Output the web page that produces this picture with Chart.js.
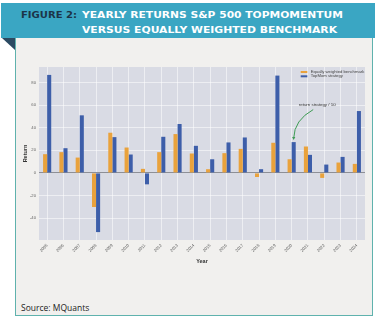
<!DOCTYPE html>
<html>
<head>
<meta charset="utf-8">
<script src="https://cdn.jsdelivr.net/npm/chart.js@4/dist/chart.umd.min.js"></script>
<style>
  html, body { margin: 0; padding: 0; background: #ffffff; }
  #wrap { position: relative; width: 380px; height: 321px; overflow: hidden; }
  #header { position: absolute; left: 1px; top: 3px; width: 374px; height: 35px; background: #3aa6c3; }
  #corner { position: absolute; left: 2px; top: 38px; width: 0; height: 0;
    border-top: 12px solid #2b4a62; border-left: 13px solid transparent; }
  #panel { position: absolute; left: 15px; top: 38px; width: 356px; height: 277px;
    background: #f1f0ee; border: 1px solid #5fb2ad; border-top: none; }
  .htxt { position: absolute; font-family: "DejaVu Sans", sans-serif; font-weight: bold;
    font-size: 9px; line-height: 9px; white-space: nowrap; transform-origin: 0 0; }
  #source { position: absolute; left: 21px; top: 302px; font-family: "Open Sans", sans-serif;
    font-size: 8.5px; color: #222; white-space: nowrap; }
  #chart { position: absolute; left: 0; top: 0; }
</style>
</head>
<body>
<div id="wrap">
  <div id="header"></div>
  <div id="corner"></div>
  <div id="panel"></div>
  <span class="htxt" id="fig" style="left:21px;top:11.3px;color:#1c3448;" data-w="56">FIGURE 2:</span>
  <span class="htxt" id="l1" style="left:82px;top:11.3px;color:#ffffff;" data-w="261">YEARLY RETURNS S&amp;P 500 TOPMOMENTUM</span>
  <span class="htxt" id="l2" style="left:82px;top:25.7px;color:#ffffff;" data-w="255">VERSUS EQUALLY WEIGHTED BENCHMARK</span>
  <div id="source">Source: MQuants</div>
  <canvas id="chart" width="380" height="321"></canvas>
</div>
<script>
// data
const years = ['2005', '2006', '2007', '2008', '2009', '2010', '2011', '2012', '2013', '2014',
  '2015', '2016', '2017', '2018', '2019', '2020', '2021', '2022', '2023', '2024'];
const benchmark = [16.6, 18.4, 13.6, -30.2, 35.6, 22.5, 3.6, 18.4, 34.4, 17.2,
  3.3, 17.5, 21.3, -3.6, 26.7, 12.1, 23.4, -4.4, 9.2, 8.0];
const topmom = [86.8, 21.9, 51.0, -52.4, 31.7, 16.3, -10.1, 32.0, 43.3, 24.0,
  12.1, 27.0, 31.4, 3.3, 86.2, 27.3, 16.0, 7.4, 14.2, 54.8];
const yTicks = [-40, -20, 0, 20, 40, 60, 80];
const yMin = -59.4;
const yMax = 93.8;
const seriesLabels = ['Equally weighted benchmark', 'TopMom strategy'];
const noteYear = '2020';
const noteText = 'return strategy / 10';

// squeeze header lines to the measured widths
document.querySelectorAll('.htxt').forEach(function (el) {
  const w = el.getBoundingClientRect().width;
  el.style.transform = 'scaleX(' + (parseFloat(el.dataset.w) / w) + ')';
});

const tickFont = { family: 'Liberation Sans', size: 4.2 };

const plotBg = {
  id: 'plotBg',
  beforeDraw(chart) {
    const { ctx, chartArea: a } = chart;
    ctx.save();
    ctx.fillStyle = '#d9dbe4';
    ctx.fillRect(a.left, a.top, a.right - a.left, a.bottom - a.top);
    ctx.restore();
  }
};

const miniLegend = {
  id: 'miniLegend',
  afterDatasetsDraw(chart) {
    const { ctx, chartArea: a } = chart;
    ctx.save();
    ctx.font = '4.2px "Liberation Sans"';
    ctx.textBaseline = 'middle';
    chart.data.datasets.forEach(function (ds, i) {
      const y = a.top + 5 + i * 4.3;
      ctx.fillStyle = ds.backgroundColor;
      ctx.fillRect(a.right - 64.3, y - 1, 6.6, 2);
      ctx.fillStyle = '#444';
      ctx.fillText(ds.label, a.right - 54.3, y);
    });
    ctx.restore();
  }
};

const note = {
  id: 'note',
  afterDatasetsDraw(chart) {
    const { ctx } = chart;
    const idx = years.indexOf(noteYear);
    const bar = chart.getDatasetMeta(1).data[idx];
    const ex = bar.x, ey = bar.y - 2;
    ctx.save();
    ctx.font = '4.4px "Liberation Sans"';
    ctx.fillStyle = '#333';
    ctx.textAlign = 'center';
    ctx.textBaseline = 'middle';
    ctx.fillText(noteText, ex + 23.5, ey - 35);
    ctx.strokeStyle = '#3f9c55';
    ctx.fillStyle = '#3f9c55';
    ctx.lineWidth = 1;
    ctx.beginPath();
    ctx.moveTo(ex + 19.5, ey - 30.5);
    ctx.quadraticCurveTo(ex + 0.5, ey - 20, ex, ey - 2);
    ctx.stroke();
    ctx.beginPath();
    ctx.moveTo(ex - 1.6, ey - 3);
    ctx.lineTo(ex + 1.6, ey - 3);
    ctx.lineTo(ex, ey);
    ctx.closePath();
    ctx.fill();
    ctx.restore();
  }
};

new Chart(document.getElementById('chart'), {
  type: 'bar',
  data: {
    labels: years,
    datasets: [
      { label: seriesLabels[0], data: benchmark, backgroundColor: '#e9a23c' },
      { label: seriesLabels[1], data: topmom, backgroundColor: '#3d5ea9' }
    ]
  },
  options: {
    responsive: false,
    animation: false,
    devicePixelRatio: 1,
    categoryPercentage: 0.5,
    barPercentage: 1.0,
    layout: { padding: { left: 15, right: 15, top: 67, bottom: 51 } },
    plugins: {
      legend: { display: false },
      tooltip: { enabled: false }
    },
    scales: {
      x: {
        afterFit(scale) { scale.height = 30; },
        grid: { offset: false, drawTicks: false, color: 'rgba(255,255,255,0.75)', lineWidth: 0.7 },
        border: { display: false },
        ticks: { font: tickFont, color: '#666', minRotation: 45, maxRotation: 45, padding: 3, autoSkip: false },
        title: { display: true, text: 'Year', color: '#333',
          font: { family: 'Liberation Sans', size: 5.5, weight: 'bold' }, padding: { top: 0, bottom: 5.7 } }
      },
      y: {
        min: yMin,
        max: yMax,
        afterFit(scale) { scale.width = 24; },
        afterBuildTicks(scale) { scale.ticks = yTicks.map(function (v) { return { value: v }; }); },
        grid: {
          drawTicks: false,
          color(c) { return c.tick && c.tick.value === 0 ? '#8d8f96' : 'rgba(255,255,255,0.75)'; },
          lineWidth(c) { return c.tick && c.tick.value === 0 ? 1 : 0.7; }
        },
        border: { display: false },
        ticks: { font: tickFont, color: '#666', padding: 3 },
        title: { display: true, text: 'Return', color: '#333',
          font: { family: 'Liberation Sans', size: 5.5, weight: 'bold' }, padding: { top: 6.7, bottom: 0 } }
      }
    }
  },
  plugins: [plotBg, miniLegend, note]
});
</script>
</body>
</html>
